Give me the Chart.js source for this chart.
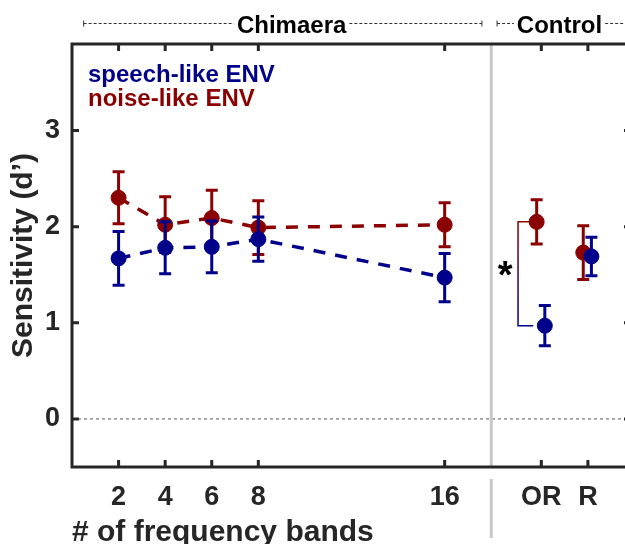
<!DOCTYPE html>
<html lang="en">
<head>
<meta charset="UTF-8">
<title>Sensitivity by number of frequency bands</title>
<script src="https://cdn.jsdelivr.net/npm/chart.js"></script>
<style>
    body { margin: 0; background: #fff; overflow: hidden; }
    #wrap { width: 640px; height: 544px; }
</style>
</head>
<body>
<div id="wrap"><canvas id="chart" width="640" height="544"></canvas></div>
<script>
// Chimaera conditions: number of frequency bands
const bands = [2, 4, 6, 8, 16];
const speechChim = [1.67, 1.78, 1.79, 1.87, 1.47];
const speechChimErr = [0.28, 0.27, 0.27, 0.23, 0.25];
const noiseChim = [2.30, 2.02, 2.09, 1.99, 2.02];
const noiseChimErr = [0.27, 0.29, 0.29, 0.28, 0.23];

// Control conditions
const controlNames = ['OR', 'R'];
const controlPos = [20.15, 22.15];
const speechCtrl = [0.97, 1.69];
const speechCtrlErr = [0.21, 0.20];
const noiseCtrl = [2.05, 1.73];
const noiseCtrlErr = [0.23, 0.28];

// axis ticks
const xTickVals = [2, 4, 6, 8, 16, 20.15, 22.15];
const xTickLabels = ['2', '4', '6', '8', '16', 'OR', 'R'];
const yTickVals = [0, 1, 2, 3];

// small horizontal offsets so control points don't sit on top of each other
const offSpeech = 0.15, offNoise = -0.2;

const BLUE = '#00008B', RED = '#8B0000', AXIS = '#262626';
const FAMILY = "'Liberation Sans', Arial, sans-serif";
Chart.defaults.font.family = FAMILY;

function pts(xs, ys, off) {
    return xs.map((x, i) => ({ x: x + off, y: ys[i] }));
}

// vertical error bars, drawn right after each dataset
const errorBars = {
    id: 'errorBars',
    afterDatasetDraw(chart, args) {
        const ds = chart.data.datasets[args.index];
        if (!ds.errors) return;
        const { ctx, scales: { x, y } } = chart;
        ctx.save();
        ctx.strokeStyle = ds.borderColor;
        ctx.lineWidth = 3;
        ctx.setLineDash([]);
        ds.data.forEach((p, i) => {
            const px = x.getPixelForValue(p.x);
            const top = y.getPixelForValue(p.y + ds.errors[i]);
            const bot = y.getPixelForValue(p.y - ds.errors[i]);
            ctx.beginPath();
            ctx.moveTo(px, top); ctx.lineTo(px, bot);
            ctx.moveTo(px - 6, top); ctx.lineTo(px + 6, top);
            ctx.moveTo(px - 6, bot); ctx.lineTo(px + 6, bot);
            ctx.stroke();
        });
        ctx.restore();
    }
};

// zero line + separator between Chimaera and Control
const background = {
    id: 'background',
    beforeDatasetsDraw(chart) {
        const { ctx, chartArea: a, scales: { x, y } } = chart;
        ctx.save();
        const y0 = y.getPixelForValue(0);
        ctx.strokeStyle = '#555';
        ctx.lineWidth = 1;
        ctx.setLineDash([3, 3]);
        ctx.beginPath(); ctx.moveTo(a.left, y0); ctx.lineTo(a.right, y0); ctx.stroke();

        const xs = x.getPixelForValue(18);
        ctx.setLineDash([]);
        ctx.strokeStyle = '#c8c8c8';
        ctx.lineWidth = 3;
        ctx.beginPath();
        ctx.moveTo(xs, a.top); ctx.lineTo(xs, a.bottom);
        ctx.moveTo(xs, a.bottom + 12); ctx.lineTo(xs, a.bottom + 71);
        ctx.stroke();
        ctx.restore();
    }
};

// box, inward ticks, legend text, group labels, significance bracket
const frame = {
    id: 'frame',
    afterDraw(chart) {
        const { ctx, chartArea: a, scales: { x, y } } = chart;
        ctx.save();
        ctx.strokeStyle = AXIS;
        ctx.lineWidth = 3;
        ctx.strokeRect(a.left, a.top, a.right - a.left, a.bottom - a.top);
        ctx.beginPath();
        xTickVals.forEach(v => {
            const px = x.getPixelForValue(v);
            ctx.moveTo(px, a.bottom); ctx.lineTo(px, a.bottom - 7);
            ctx.moveTo(px, a.top); ctx.lineTo(px, a.top + 7);
        });
        yTickVals.forEach(v => {
            const py = y.getPixelForValue(v);
            ctx.moveTo(a.left, py); ctx.lineTo(a.left + 7, py);
            ctx.moveTo(a.right, py); ctx.lineTo(a.right - 7, py);
        });
        ctx.stroke();

        // legend
        ctx.font = 'bold 24px ' + FAMILY;
        ctx.textBaseline = 'alphabetic';
        ctx.textAlign = 'left';
        ctx.fillStyle = BLUE;
        ctx.fillText(chart.data.datasets[0].label, a.left + 16, a.top + 38);
        ctx.fillStyle = RED;
        ctx.fillText(chart.data.datasets[2].label, a.left + 16, a.top + 62);

        // group labels on top
        const gy = 23.5;
        ctx.font = 'bold 24px ' + FAMILY;
        ctx.fillStyle = '#000';
        ctx.strokeStyle = '#333';
        ctx.lineWidth = 1;
        function group(text, x0, x1, cx) {
            const w = ctx.measureText(text).width;
            const l = cx - w / 2, r = cx + w / 2;
            ctx.fillText(text, l, gy + 9.5);
            ctx.setLineDash([3, 2]);
            ctx.beginPath();
            ctx.moveTo(x0, gy); ctx.lineTo(l - 3, gy);
            ctx.moveTo(r + 3, gy); ctx.lineTo(x1, gy);
            ctx.stroke();
            ctx.setLineDash([]);
            ctx.beginPath();
            ctx.moveTo(x0, gy - 3); ctx.lineTo(x0, gy + 3);
            ctx.moveTo(x1, gy - 3); ctx.lineTo(x1, gy + 3);
            ctx.stroke();
        }
        group('Chimaera', x.getPixelForValue(0.5), x.getPixelForValue(17.6), x.getPixelForValue(9.43));
        group('Control', x.getPixelForValue(18.25), x.getPixelForValue(24.5), x.getPixelForValue(20.93));

        // significance bracket between OR conditions
        const bx = x.getPixelForValue(19.15), bx2 = x.getPixelForValue(19.8);
        const by1 = y.getPixelForValue(noiseCtrl[0]), by2 = y.getPixelForValue(speechCtrl[0]);
        const grad = ctx.createLinearGradient(0, by1, 0, by2);
        grad.addColorStop(0, RED);
        grad.addColorStop(1, BLUE);
        ctx.strokeStyle = grad;
        ctx.lineWidth = 1.5;
        ctx.beginPath();
        ctx.moveTo(bx2, by1); ctx.lineTo(bx, by1); ctx.lineTo(bx, by2); ctx.lineTo(bx2, by2);
        ctx.stroke();
        ctx.fillStyle = '#000';
        ctx.font = 'bold 38px ' + FAMILY;
        ctx.textAlign = 'center';
        ctx.fillText('*', x.getPixelForValue(18.6), y.getPixelForValue(1.53) + 16);
        ctx.restore();
    }
};

const tickFont = { family: FAMILY, size: 27, weight: 'bold' };
const titleFont = { family: FAMILY, size: 30, weight: 'bold' };

new Chart(document.getElementById('chart'), {
    type: 'line',
    data: {
        datasets: [
            {
                label: 'speech-like ENV',
                data: pts(bands, speechChim, 0),
                errors: speechChimErr,
                borderColor: BLUE, backgroundColor: BLUE,
                borderWidth: 3.5, borderDash: [12, 10],
                pointRadius: 7.5, pointHoverRadius: 7.5, pointBorderWidth: 1
            },
            {
                label: 'speech-like ENV (control)',
                data: pts(controlPos, speechCtrl, offSpeech),
                errors: speechCtrlErr,
                borderColor: BLUE, backgroundColor: BLUE, showLine: false,
                pointRadius: 7.5, pointHoverRadius: 7.5, pointBorderWidth: 1
            },
            {
                label: 'noise-like ENV',
                data: pts(bands, noiseChim, 0),
                errors: noiseChimErr,
                borderColor: RED, backgroundColor: RED,
                borderWidth: 3.5, borderDash: [12, 10],
                pointRadius: 7.5, pointHoverRadius: 7.5, pointBorderWidth: 1
            },
            {
                label: 'noise-like ENV (control)',
                data: pts(controlPos, noiseCtrl, offNoise),
                errors: noiseCtrlErr,
                borderColor: RED, backgroundColor: RED, showLine: false,
                pointRadius: 7.5, pointHoverRadius: 7.5, pointBorderWidth: 1
            }
        ]
    },
    options: {
        responsive: false,
        animation: false,
        layout: { padding: { left: 0, right: 9, top: 44, bottom: 0 } },
        plugins: { legend: { display: false }, tooltip: { enabled: false } },
        scales: {
            x: {
                type: 'linear', min: 0, max: 24,
                afterBuildTicks: s => { s.ticks = xTickVals.map(v => ({ value: v })); },
                afterFit: s => { s.height = 77; },
                grid: { display: false, drawTicks: false },
                border: { display: false },
                ticks: {
                    autoSkip: false, maxRotation: 0, font: tickFont, color: AXIS, padding: 14,
                    callback: (v, i) => xTickLabels[i]
                },
                title: {
                    display: true, text: '# of frequency bands', align: 'start',
                    font: Object.assign({ lineHeight: 0.75 }, titleFont), color: AXIS, padding: 0
                }
            },
            y: {
                type: 'linear', min: -0.5, max: 3.9,
                afterBuildTicks: s => { s.ticks = yTickVals.map(v => ({ value: v })); },
                afterFit: s => { s.width = 72; },
                grid: { display: false, drawTicks: false },
                border: { display: false },
                ticks: { font: tickFont, color: AXIS, padding: 12 },
                title: {
                    display: true, text: 'Sensitivity (d’)',
                    font: titleFont, color: AXIS, padding: { top: 6, bottom: 0 }
                }
            }
        }
    },
    plugins: [background, errorBars, frame]
});
</script>
</body>
</html>
